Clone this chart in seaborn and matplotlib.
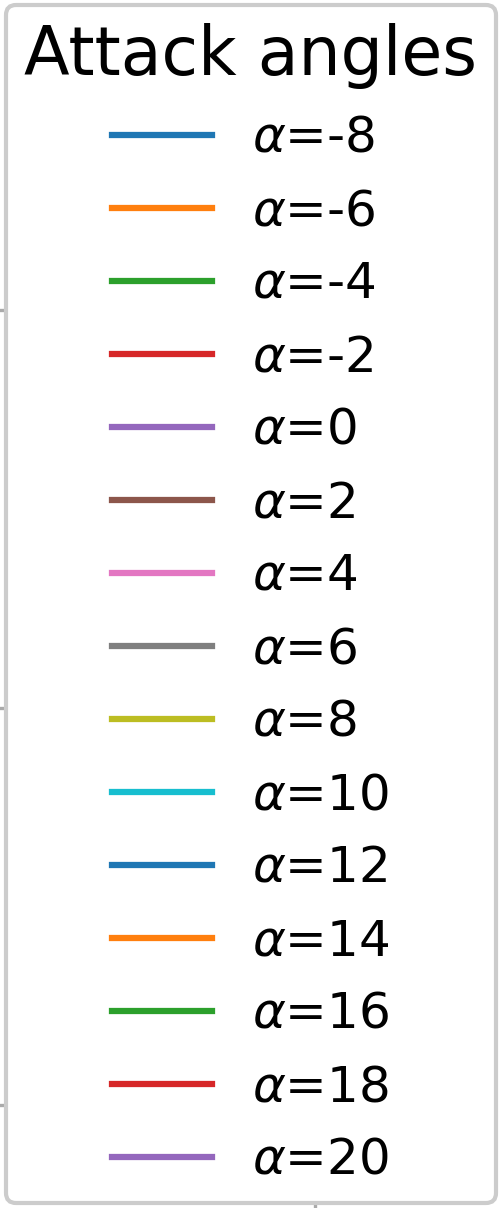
import matplotlib
matplotlib.use("Agg")
import matplotlib.pyplot as plt
import seaborn as sns

sns.set_style("white")
plt.rcParams["font.family"] = "DejaVu Sans"
plt.rcParams["mathtext.fontset"] = "dejavusans"
plt.rcParams["text.color"] = "black"
plt.rcParams["lines.solid_capstyle"] = "projecting"

# attack angles shown in the legend (degrees)
angles = [-8, -6, -4, -2, 0, 2, 4, 6, 8, 10, 12, 14, 16, 18, 20]
labels = [f"$\\alpha$={a}" for a in angles]
palette = sns.color_palette("tab10", 10)

# tick values of the axes that sits behind the legend
y_ticks = [0, 1, 2]
x_ticks = [0]

DPI = 300
W, H = 500, 1208
fig = plt.figure(figsize=(W / DPI, H / DPI), dpi=DPI)

# axes mostly hidden behind the big legend, only tick stubs peek out
left_px, bottom_px, right_px = 14, 1199, 490
ax = fig.add_axes([left_px / W, (H - bottom_px) / H,
                   (right_px - left_px) / W, bottom_px / H])
ax.set_ylim(-94 / 397.5, (bottom_px - 94) / 397.5)
ax.set_xlim(-(315 - left_px) / 400, (right_px - 315) / 400)
ax.set_yticks(y_ticks)
ax.set_xticks(x_ticks)
ax.set_yticklabels([])
ax.set_xticklabels([])
ax.tick_params(axis="both", which="major", direction="out", length=3.5,
               width=0.8, color="#aaaaaa", left=True, bottom=True)
for s in ax.spines.values():
    s.set_visible(False)

for i, lab in enumerate(labels):
    ax.plot([], [], color=palette[i % 10], linewidth=1.5, label=lab)

leg = ax.legend(title="Attack angles", loc="center",
                bbox_to_anchor=(250.5 / W, 1 - 603.5 / H),
                bbox_transform=fig.transFigure,
                fontsize=12, title_fontsize=16, handlelength=2.0,
                labelspacing=0.5, borderpad=0.37,
                frameon=True, framealpha=1, edgecolor="#cccccc",
                fancybox=True)
leg.get_frame().set_linewidth(1.0)

fig.savefig("out.png", dpi=DPI)
